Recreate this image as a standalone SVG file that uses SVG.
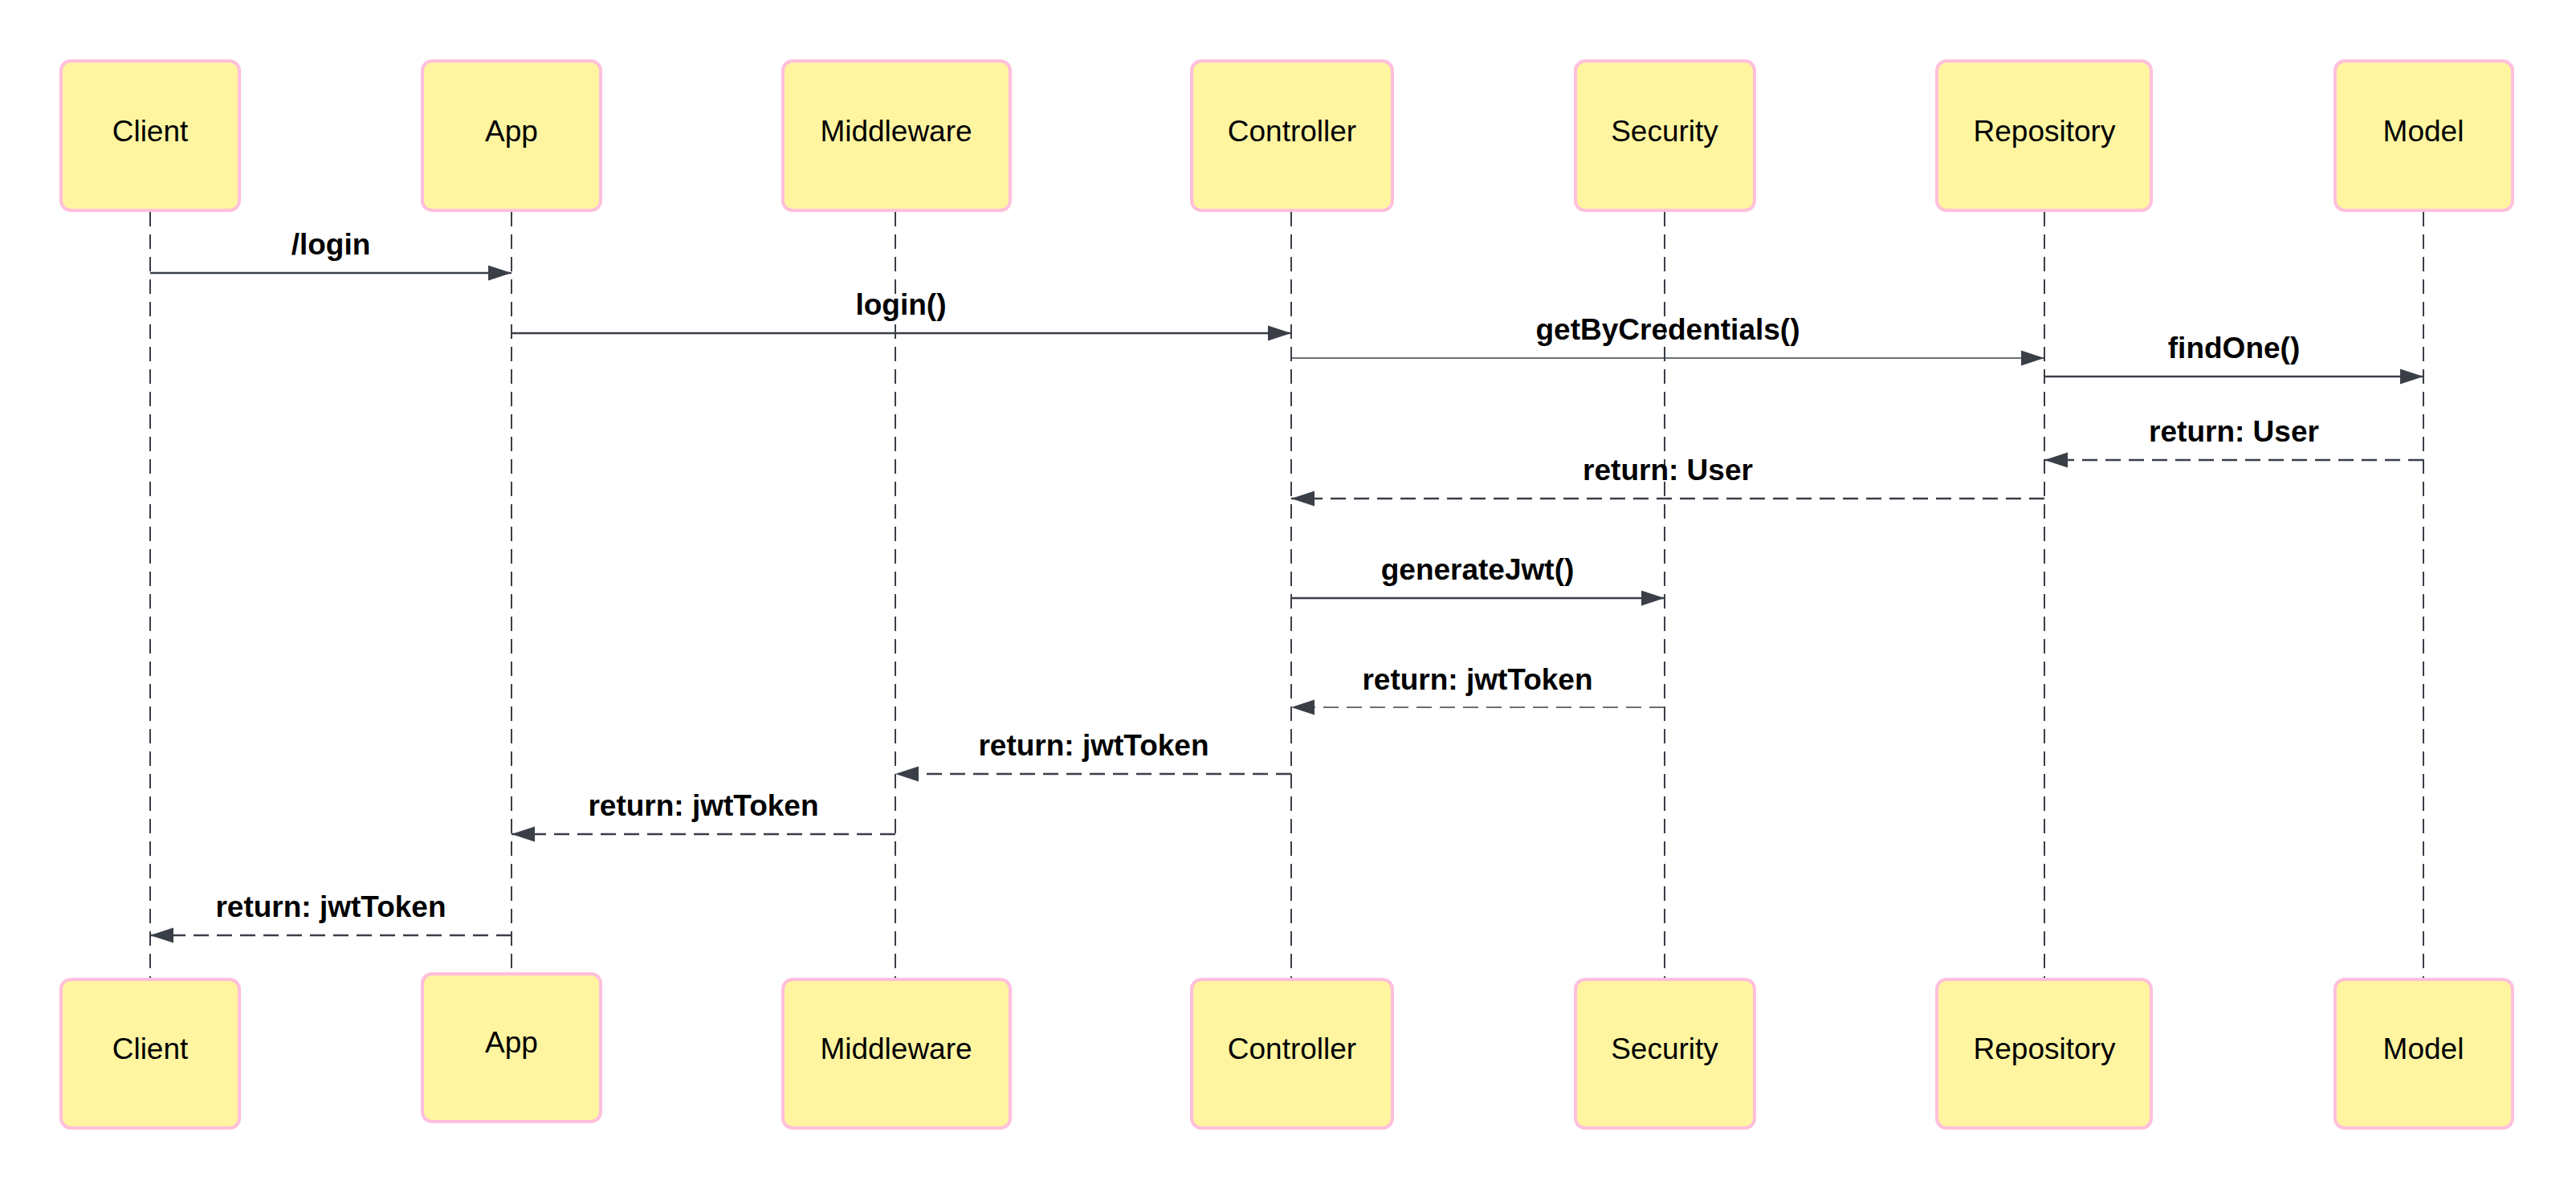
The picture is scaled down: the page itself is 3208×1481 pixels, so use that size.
<svg xmlns="http://www.w3.org/2000/svg" width="3208" height="1481" viewBox="0 0 3208 1481">
<style>
.box{fill:#fff5a0;stroke:#ffbfdc;stroke-width:4}
.name{font-family:"Liberation Sans",Arial,sans-serif;font-size:37px;fill:#000;text-anchor:middle}
.lbl{font-family:"Liberation Sans",Arial,sans-serif;font-size:37px;font-weight:bold;fill:#000;text-anchor:middle}
.life{stroke:#3a3f47;stroke-width:2;stroke-dasharray:18 10;fill:none}
.msg{stroke:#3a3f47;stroke-width:2.7;fill:none}
.thin{stroke-width:1.5}
.ret{stroke-dasharray:19 10}
</style>
<defs>
<marker id="ah" markerUnits="userSpaceOnUse" markerWidth="30" markerHeight="20" refX="29" refY="10" orient="auto">
<path d="M0,0.5 L29,10 L0,19.5 Z" fill="#3a3f47"/>
</marker>
</defs>
<rect width="3208" height="1481" fill="#ffffff"/>
<g id="lifelines">
<line class="life" x1="187" y1="264" x2="187" y2="1218"/>
<line class="life" x1="637" y1="264" x2="637" y2="1211"/>
<line class="life" x1="1115" y1="264" x2="1115" y2="1218"/>
<line class="life" x1="1608" y1="264" x2="1608" y2="1218"/>
<line class="life" x1="2073" y1="264" x2="2073" y2="1218"/>
<line class="life" x1="2546" y1="264" x2="2546" y2="1218"/>
<line class="life" x1="3018" y1="264" x2="3018" y2="1218"/>
</g>
<g id="client">
<rect class="box" x="76" y="76" width="222" height="186" rx="12"/>
<text class="name" x="187" y="176">Client</text>
<rect class="box" x="76" y="1220" width="222" height="185" rx="12"/>
<text class="name" x="187" y="1319">Client</text>
</g>
<g id="app">
<rect class="box" x="526" y="76" width="222" height="186" rx="12"/>
<text class="name" x="637" y="176">App</text>
<rect class="box" x="526" y="1213" width="222" height="184" rx="12"/>
<text class="name" x="637" y="1311">App</text>
</g>
<g id="middleware">
<rect class="box" x="975" y="76" width="283" height="186" rx="12"/>
<text class="name" x="1116" y="176">Middleware</text>
<rect class="box" x="975" y="1220" width="283" height="185" rx="12"/>
<text class="name" x="1116" y="1319">Middleware</text>
</g>
<g id="controller">
<rect class="box" x="1484" y="76" width="250" height="186" rx="12"/>
<text class="name" x="1609" y="176">Controller</text>
<rect class="box" x="1484" y="1220" width="250" height="185" rx="12"/>
<text class="name" x="1609" y="1319">Controller</text>
</g>
<g id="security">
<rect class="box" x="1962" y="76" width="223" height="186" rx="12"/>
<text class="name" x="2073" y="176">Security</text>
<rect class="box" x="1962" y="1220" width="223" height="185" rx="12"/>
<text class="name" x="2073" y="1319">Security</text>
</g>
<g id="repository">
<rect class="box" x="2412" y="76" width="267" height="186" rx="12"/>
<text class="name" x="2546" y="176">Repository</text>
<rect class="box" x="2412" y="1220" width="267" height="185" rx="12"/>
<text class="name" x="2546" y="1319">Repository</text>
</g>
<g id="model">
<rect class="box" x="2908" y="76" width="221" height="186" rx="12"/>
<text class="name" x="3018" y="176">Model</text>
<rect class="box" x="2908" y="1220" width="221" height="185" rx="12"/>
<text class="name" x="3018" y="1319">Model</text>
</g>
<g id="connectors">
<line class="msg" x1="187" y1="340" x2="637" y2="340" marker-end="url(#ah)"/>
<text class="lbl" x="412" y="317">/login</text>
<line class="msg" x1="637" y1="415" x2="1608" y2="415" marker-end="url(#ah)"/>
<text class="lbl" x="1122" y="392">login()</text>
<line class="msg thin" x1="1608" y1="446" x2="2546" y2="446" marker-end="url(#ah)"/>
<text class="lbl" x="2077" y="423">getByCredentials()</text>
<line class="msg" x1="2546" y1="469" x2="3018" y2="469" marker-end="url(#ah)"/>
<text class="lbl" x="2782" y="446">findOne()</text>
<line class="msg ret" x1="3018" y1="573" x2="2546" y2="573" marker-end="url(#ah)"/>
<text class="lbl" x="2782" y="550">return: User</text>
<line class="msg ret" x1="2546" y1="621" x2="1608" y2="621" marker-end="url(#ah)"/>
<text class="lbl" x="2077" y="598">return: User</text>
<line class="msg" x1="1608" y1="745" x2="2073" y2="745" marker-end="url(#ah)"/>
<text class="lbl" x="1840" y="722">generateJwt()</text>
<line class="msg ret thin" x1="2073" y1="881" x2="1608" y2="881" marker-end="url(#ah)"/>
<text class="lbl" x="1840" y="859">return: jwtToken</text>
<line class="msg ret" x1="1608" y1="964" x2="1115" y2="964" marker-end="url(#ah)"/>
<text class="lbl" x="1362" y="941">return: jwtToken</text>
<line class="msg ret" x1="1115" y1="1039" x2="637" y2="1039" marker-end="url(#ah)"/>
<text class="lbl" x="876" y="1016">return: jwtToken</text>
<line class="msg ret" x1="637" y1="1165" x2="187" y2="1165" marker-end="url(#ah)"/>
<text class="lbl" x="412" y="1142">return: jwtToken</text>
</g>
</svg>
